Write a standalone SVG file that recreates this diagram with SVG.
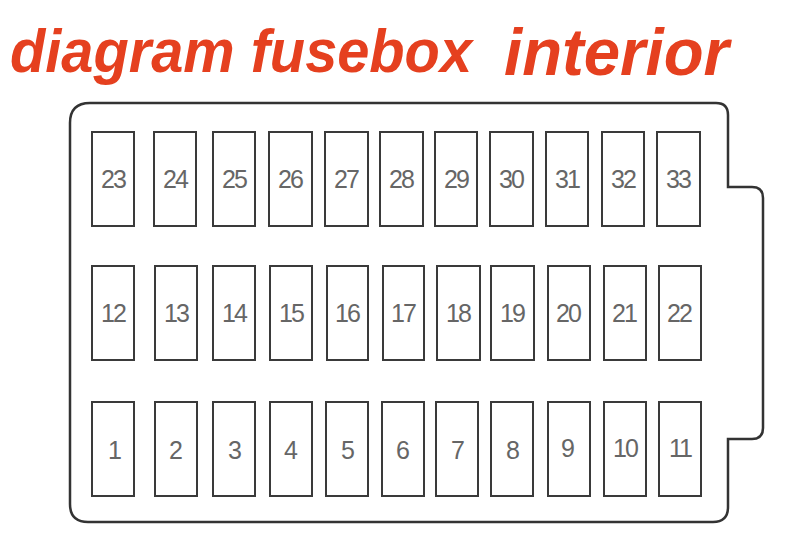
<svg xmlns="http://www.w3.org/2000/svg" width="811" height="540" viewBox="0 0 811 540">
<style>
.title{font-family:"Liberation Sans",Arial,sans-serif;font-weight:bold;font-style:italic;fill:#e5401f}
.fuse rect{fill:#fff;stroke:#3a3a3a;stroke-width:2}
.fuse text{font-family:"Liberation Sans",Arial,sans-serif;font-size:25px;letter-spacing:-2px;fill:#666;text-anchor:middle;dominant-baseline:central}
.box{fill:#fff;stroke:#333;stroke-width:2.5}
</style>
<rect width="811" height="540" fill="#fff"/>
<text class="title" x="10" y="72" font-size="62" textLength="462" lengthAdjust="spacingAndGlyphs">diagram fusebox</text>
<text class="title" x="504" y="75" font-size="66" textLength="225" lengthAdjust="spacingAndGlyphs">interior</text>
<path id="housing" class="box" d="M 90,103 H 716 Q 728,103 728,115 V 187 H 752 Q 763,187 763,198 V 428 Q 763,439 752,439 H 728 V 507 Q 728,522 713,522 H 88 Q 70,522 70,504 V 123 Q 70,103 90,103 Z"/>
<g id="fuses">
<g id="f23" class="fuse"><rect x="92" y="132" width="42" height="94"/><text x="113" y="179">23</text></g>
<g id="f24" class="fuse"><rect x="154" y="132" width="42" height="94"/><text x="175" y="179">24</text></g>
<g id="f25" class="fuse"><rect x="213" y="132" width="42" height="94"/><text x="234" y="179">25</text></g>
<g id="f26" class="fuse"><rect x="269" y="132" width="43" height="94"/><text x="290" y="179">26</text></g>
<g id="f27" class="fuse"><rect x="325" y="132" width="43" height="94"/><text x="346" y="179">27</text></g>
<g id="f28" class="fuse"><rect x="380" y="132" width="43" height="94"/><text x="401" y="179">28</text></g>
<g id="f29" class="fuse"><rect x="435" y="132" width="42" height="94"/><text x="456" y="179">29</text></g>
<g id="f30" class="fuse"><rect x="490" y="132" width="43" height="94"/><text x="511" y="179">30</text></g>
<g id="f31" class="fuse"><rect x="546" y="132" width="42" height="94"/><text x="567" y="179">31</text></g>
<g id="f32" class="fuse"><rect x="602" y="132" width="42" height="94"/><text x="623" y="179">32</text></g>
<g id="f33" class="fuse"><rect x="657" y="132" width="43" height="94"/><text x="678" y="179">33</text></g>

<g id="f12" class="fuse"><rect x="92" y="266" width="42" height="94"/><text x="113" y="313">12</text></g>
<g id="f13" class="fuse"><rect x="155" y="266" width="42" height="94"/><text x="176" y="313">13</text></g>
<g id="f14" class="fuse"><rect x="213" y="266" width="42" height="94"/><text x="234" y="313">14</text></g>
<g id="f15" class="fuse"><rect x="270" y="266" width="42" height="94"/><text x="291" y="313">15</text></g>
<g id="f16" class="fuse"><rect x="327" y="266" width="41" height="94"/><text x="347" y="313">16</text></g>
<g id="f17" class="fuse"><rect x="383" y="266" width="41" height="94"/><text x="403" y="313">17</text></g>
<g id="f18" class="fuse"><rect x="437" y="266" width="43" height="94"/><text x="458" y="313">18</text></g>
<g id="f19" class="fuse"><rect x="491" y="266" width="43" height="94"/><text x="512" y="313">19</text></g>
<g id="f20" class="fuse"><rect x="548" y="266" width="42" height="94"/><text x="568" y="313">20</text></g>
<g id="f21" class="fuse"><rect x="604" y="266" width="42" height="94"/><text x="624" y="313">21</text></g>
<g id="f22" class="fuse"><rect x="659" y="266" width="42" height="94"/><text x="679" y="313">22</text></g>

<g id="f1" class="fuse"><rect x="92" y="402" width="42" height="94"/><text x="114" y="450">1</text></g>
<g id="f2" class="fuse"><rect x="155" y="402" width="42" height="94"/><text x="175" y="450">2</text></g>
<g id="f3" class="fuse"><rect x="213" y="402" width="42" height="94"/><text x="234" y="450">3</text></g>
<g id="f4" class="fuse"><rect x="270" y="402" width="42" height="94"/><text x="290" y="450">4</text></g>
<g id="f5" class="fuse"><rect x="326" y="402" width="42" height="94"/><text x="347" y="450">5</text></g>
<g id="f6" class="fuse"><rect x="382" y="402" width="42" height="94"/><text x="402" y="450">6</text></g>
<g id="f7" class="fuse"><rect x="436" y="402" width="42" height="94"/><text x="457" y="450">7</text></g>
<g id="f8" class="fuse"><rect x="491" y="402" width="42" height="94"/><text x="512" y="450">8</text></g>
<g id="f9" class="fuse"><rect x="548" y="402" width="42" height="94"/><text x="567" y="448">9</text></g>
<g id="f10" class="fuse"><rect x="604" y="402" width="42" height="94"/><text x="625" y="448">10</text></g>
<g id="f11" class="fuse"><rect x="659" y="402" width="42" height="94"/><text x="680" y="448">11</text></g>
</g>
<g id="connectors"/>
</svg>
